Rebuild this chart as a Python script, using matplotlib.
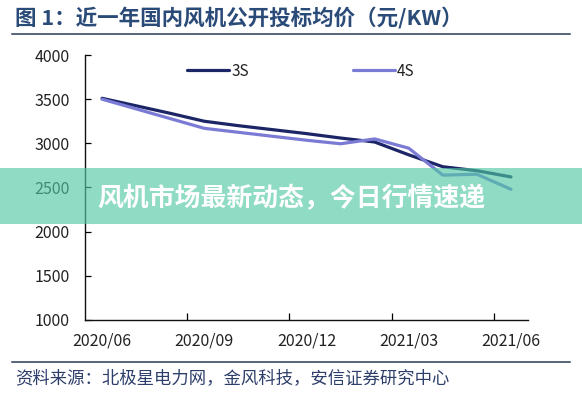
import matplotlib
matplotlib.use("Agg")
import matplotlib.pyplot as plt
from matplotlib.lines import Line2D
from matplotlib.patches import Rectangle

plt.rcParams['font.family'] = ['Noto Sans CJK SC', 'DejaVu Sans']

# months since 2020/06, monthly bidding prices (yuan/KW)
months = list(range(13))
price_3s = [3510, 3425, 3340, 3250, 3200, 3155, 3110, 3060, 3015, 2870, 2735, 2690, 2620]
price_4s = [3500, 3390, 3280, 3170, 3125, 3080, 3035, 2995, 3050, 2945, 2640, 2650, 2480]

label_pos = [0, 3, 6, 9, 12]
label_txt = ['2020/06', '2020/09', '2020/12', '2021/03', '2021/06']
tick_marks = [2.5, 5.5, 8.5, 11.5]
y_ticks = [1000, 1500, 2000, 2500, 3000, 3500, 4000]

W, H = 582, 393
fig = plt.figure(figsize=(W / 100, H / 100), dpi=100)
ax = fig.add_axes([85 / W, (H - 320) / H, (528 - 85) / W, (320 - 55) / H])

ax.plot(months, price_3s, color='#1c2566', lw=2.3, label='3S', solid_capstyle='round')
ax.plot(months, price_4s, color='#7b7bd6', lw=2.3, label='4S', solid_capstyle='round')

ax.set_xlim(-0.5, 12.5)
ax.set_ylim(1000, 4000)
ax.set_xticks(label_pos)
ax.set_xticklabels(label_txt)
ax.set_xticks(tick_marks, minor=True)
ax.set_yticks(y_ticks)
ax.tick_params(axis='x', which='major', length=0, pad=9, labelsize=11.5, labelcolor='#222222')
ax.tick_params(axis='x', which='minor', direction='in', length=5, width=0.9)
ax.tick_params(axis='y', direction='in', length=4, width=0.9, pad=11, labelsize=11.5, labelcolor='#222222')
for s in ['top', 'right']:
    ax.spines[s].set_visible(False)
for s in ['left', 'bottom']:
    ax.spines[s].set_linewidth(1.0)
    ax.spines[s].set_color('#111111')

leg = ax.legend(loc='center left', bbox_to_anchor=(187 / W, (H - 71) / H),
                bbox_transform=fig.transFigure, ncol=2, frameon=False,
                fontsize=11, handlelength=2.75, handletextpad=0.15,
                columnspacing=6.8, borderpad=0, borderaxespad=0)
for t in leg.get_texts():
    t.set_color('#222222')

# title and rules
fig.text(15 / W, (H - 18) / H, '图 1：近一年国内风机公开投标均价（元/KW）',
         fontsize=15.5, fontweight='bold', color='#2a4a78', va='center', ha='left')
fig.add_artist(Line2D([12 / W, 570 / W], [(H - 34) / H] * 2, color='#2b3a55', lw=1.1))
fig.add_artist(Line2D([12 / W, 570 / W], [(H - 362) / H] * 2, color='#2b3a55', lw=1.1))
fig.text(15 / W, (H - 378) / H, '资料来源：北极星电力网，金风科技，安信证券研究中心',
         fontsize=12.5, style='italic', color='#2d3e6b', va='center', ha='left')

# overlay banner
fig.add_artist(Rectangle((0, (H - 224) / H), 1, 56 / H, transform=fig.transFigure,
                         facecolor='#50c8a3', alpha=0.64, edgecolor='none', zorder=10))
fig.text(97 / W, (H - 199) / H, '风机市场最新动态，今日行情速递', fontsize=18.6,
         fontweight='heavy', color='white', va='center', ha='left', zorder=11)

fig.savefig('out.png', dpi=100)
